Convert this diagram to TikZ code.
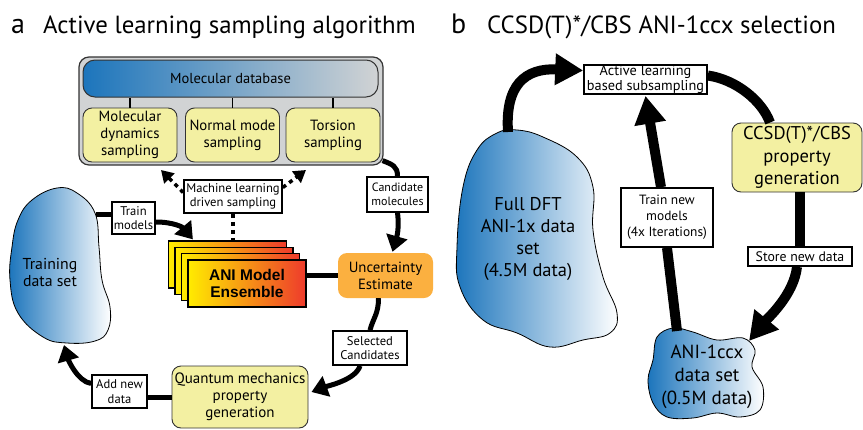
\documentclass[tikz,border=0pt]{standalone}
\usepackage{fontspec}
\setmainfont{PT Sans}
\newfontfamily\ensfont{Liberation Sans}
\usetikzlibrary{arrows.meta}
\definecolor{aniblue}{HTML}{1C75BC}
\definecolor{dbgray}{HTML}{D1D3D4}
\definecolor{qmyellow}{HTML}{F3F0A2}
\definecolor{uncorange}{HTML}{FBB040}
\definecolor{ensyellow}{HTML}{FFEC00}
\definecolor{ensred}{HTML}{EE3A2C}
\tikzset{
  tag/.style={draw,line width=1.6pt,fill=white,align=center,inner sep=0pt,font=\fontsize{12.6}{14.5}\selectfont},
  yellowbox/.style={draw=black!80,line width=0.9pt,fill=qmyellow,rounded corners=9pt,align=center,inner sep=0pt},
  ensbox/.style={draw,line width=1.2pt,left color=ensyellow,right color=ensred,minimum width=118pt,minimum height=47pt},
  blob/.style={draw,line width=0.8pt,left color=aniblue,right color=white},
  flow/.style={line width=5pt},
  bigflow/.style={line width=10pt},
  head/.style={-{Triangle[length=16pt,width=21pt]}},
  bighead/.style={-{Triangle[length=28pt,width=30pt]}},
  dotflow/.style={line width=3.5pt,dash pattern=on 4pt off 4pt,-{Triangle[length=12pt,width=14pt]}},
}

\begin{document}
\begin{tikzpicture}[x=1pt,y=-1pt]
	\useasboundingbox (0,0) rectangle (863,429);
	
	% Titles
	\node[anchor=base west,inner sep=0,font=\fontsize{28}{28}\selectfont] at (11,33) {a};
	\node[anchor=base west,inner sep=0,font=\fontsize{24.8}{25}\selectfont] at (43,33) {Active learning sampling algorithm};
	\node[anchor=base west,inner sep=0,font=\fontsize{28}{28}\selectfont] at (451,33) {b};
	\node[anchor=base west,inner sep=0,font=\fontsize{24.8}{25}\selectfont] at (487,33) {CCSD(T)*/CBS ANI-1ccx selection};
	
	% Sampling database
	\node[draw=black!80,line width=1.2pt,fill=dbgray,rounded corners=10pt,minimum width=304pt,minimum height=108pt] (dbframe) at (231,111) {};
	\node[draw=black!80,line width=1pt,left color=aniblue,right color=dbgray,rounded corners=12pt,minimum width=295pt,minimum height=37pt,font=\fontsize{14.5}{16}\selectfont] (moldb) at (230.5,78.5) {Molecular database};
	\begin{scope}[every node/.style={yellowbox,minimum width=94pt,minimum height=54pt,font=\fontsize{14.8}{17}\selectfont}]
	\node (mdsamp) at (130,135) {Molecular\\dynamics\\sampling};
	\node (nmsamp) at (232.5,135) {Normal mode\\sampling};
	\node (torsamp) at (333,135) {Torsion\\sampling};
	\end{scope}
	\foreach \s in {mdsamp,nmsamp,torsamp}
		\draw[line width=1.3pt] (\s.north) -- (\s.north |- moldb.south);
	
	% Models
	\foreach \i in {0,...,3}
		\node[ensbox] (ens\i) at ({227.5+6.5*\i},{264.5+6.33*\i}) {};
	\node[align=center,font=\ensfont\bfseries\fontsize{15.5}{17}\selectfont] at (ens3) {ANI Model\\Ensemble};
	
	\node[tag,minimum width=98pt,minimum height=33pt] (mlsamp) at (233,196.5) {Machine learning\\driven sampling};
	\coordinate (mdtip) at (161,170);
	\coordinate (tortip) at (306,170);
	\draw[dotflow] ([shift={(0,-4)}]mlsamp.west) -- (mdtip);
	\draw[dotflow] ([shift={(0,-9)}]mlsamp.east) -- (tortip);
	\draw[line width=3.5pt,dash pattern=on 4pt off 4pt] (mlsamp.south) -- (mlsamp.south |- ens0.north);
	
	\node[draw=none,fill=uncorange,rounded corners=9pt,align=center,minimum width=95pt,minimum height=45pt,font=\fontsize{14.8}{17}\selectfont] (uncert) at (385.5,275.5) {Uncertainty\\Estimate};
	\node[tag,minimum width=61pt,minimum height=35pt,font=\fontsize{12}{14.5}\selectfont] (cand) at (397.5,194.5) {Candidate\\molecules};
	\node[tag,minimum width=74pt,minimum height=34pt] (selcand) at (370,348) {Selected\\Candidates};
	\node[yellowbox,minimum width=136pt,minimum height=62pt,font=\fontsize{15}{17}\selectfont] (qmgen) at (240,397) {Quantum mechanics\\property\\generation};
	\node[tag,minimum width=55pt,minimum height=33pt] (addnew) at (119.5,391.5) {Add new\\data};
	\node[tag,minimum width=43pt,minimum height=32pt] (trainmod) at (133.5,218) {Train\\models};
	
	% Training set
	\shade[blob] plot[smooth cycle,tension=0.7] coordinates {(57,188) (77,193) (95,213) (99,247) (102,280) (110,307) (108,330) (95,341) (67,343) (43,337) (18,313) (10,280) (12,247) (18,220) (32,200)};
	\node[align=center,font=\fontsize{15.8}{17}\selectfont] (trainset) at (50,272) {Training\\data set};
	\coordinate (trainright) at (96,214);
	\coordinate (trainbottom) at (64,345);
	
	\begin{scope}[flow]
	\draw (trainright) -- ([shift={(0,-4)}]trainmod.west);
	\draw[head] ([shift={(0,4)}]trainmod.east) .. controls +(18,0) and +(-10,-12) .. ([shift={(25,-1)}]ens0.north west);
	\draw (ens3.east |- uncert.west) -- (uncert.west);
	\draw ([shift={(-1,-5)}]dbframe.south east) .. controls +(10,4) and +(0,-10) .. (cand.north);
	\draw[head] (cand.south) .. controls +(2,16) and +(4,-14) .. ([shift={(7,-1)}]uncert.north);
	\draw ([shift={(-7,0)}]uncert.south) .. controls +(0,16) and +(3,-12) .. (selcand.north);
	\draw[head] ([shift={(-10,0)}]selcand.south) .. controls +(-4,14) and +(16,-6) .. ([shift={(3,-5)}]qmgen.east);
	\draw (addnew.east |- qmgen.west) -- (qmgen.west);
	\draw[head] ([shift={(0,-8)}]addnew.west) .. controls +(-14,-2) and +(4,14) .. (trainbottom);
	\end{scope}
	
	% Selection panel
	\shade[blob] plot[smooth cycle,tension=0.7] coordinates {(517,130) (543,137) (577,157) (593,187) (593,230) (603,277) (617,313) (610,333) (583,340) (550,347) (517,333) (483,320) (460,287) (457,247) (463,187) (477,150) (497,133)};
	\node[align=center,font=\fontsize{18.5}{22}\selectfont] (fulldft) at (528,239) {Full DFT\\ANI-1x data\\set\\(4.5M data)};
	\shade[blob] plot[smooth cycle,tension=0.6] coordinates {(657,337) (673,328) (693,332) (717,340) (743,338) (755,350) (752,367) (763,387) (760,410) (740,417) (717,413) (693,418) (667,417) (653,403) (648,380) (653,360)};
	\node[align=center,font=\fontsize{19}{23}\selectfont] (ccxset) at (707,377) {ANI-1ccx\\data set\\(0.5M data)};
	\coordinate (dfttop) at (508,132);
	\coordinate (ccxtop) at (677,331);
	\coordinate (ccxtip) at (749,341);
	
	\node[tag,minimum width=123pt,minimum height=29pt,font=\fontsize{14.3}{15}\selectfont] (alsub) at (645.5,79.5) {Active learning\\based subsampling};
	\node[yellowbox,minimum width=130pt,minimum height=69pt,font=\fontsize{18.5}{22.5}\selectfont] (ccsdgen) at (797,157.5) {CCSD(T)*/CBS\\property\\generation};
	\node[tag,minimum width=92pt,minimum height=59pt,font=\fontsize{13.4}{16}\selectfont] (trainnew) at (667,217.5) {Train new\\models\\(4x Iterations)};
	\node[tag,minimum width=104pt,minimum height=19pt,font=\fontsize{13.8}{15}\selectfont] (storenew) at (800,256.5) {Store new data};
	
	\begin{scope}[bigflow]
	\draw[bighead] (dfttop) .. controls (505,85) and (525,68) .. ([shift={(0,-9)}]alsub.west);
	\draw ([shift={(0,-4)}]alsub.east) .. controls +(28,4) and +(-8,-22) .. ([shift={(-27,0)}]ccsdgen.north);
	\draw (ccsdgen.south -| storenew.north) -- (storenew.north);
	\draw[bighead] ([shift={(-3,0)}]storenew.south) .. controls +(-3,28) and +(18,-22) .. (ccxtip);
	\draw (ccxtop) -- (trainnew.south);
	\draw[bighead] ([shift={(-6,0)}]trainnew.north) -- ([shift={(0,1)}]alsub.south);
	\end{scope}
\end{tikzpicture}
\end{document}
